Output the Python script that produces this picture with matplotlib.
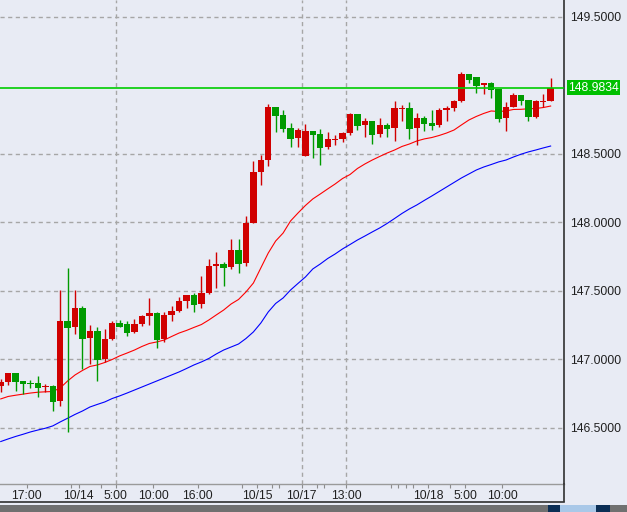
import numpy as np
import matplotlib
matplotlib.use('Agg')
import matplotlib.pyplot as plt
from matplotlib.patches import Rectangle
from matplotlib.lines import Line2D
from matplotlib.transforms import blended_transform_factory

# hourly candles
opens = [146.807, 146.838, 146.904, 146.843, 146.831, 146.831, 146.799, 146.807, 146.699, 147.281,
         147.239, 147.376, 147.159, 147.208, 147.006, 147.152, 147.266, 147.259, 147.201, 147.259,
         147.318, 147.339, 147.150, 147.325, 147.354, 147.427, 147.471, 147.405, 147.485, 147.683,
         147.697, 147.675, 147.799, 147.704, 147.996, 148.369, 148.456, 148.843, 148.785, 148.690,
         148.617, 148.486, 148.668, 148.646, 148.551, 148.602, 148.610, 148.653, 148.792, 148.712,
         148.741, 148.646, 148.712, 148.690, 148.829, 148.836, 148.690, 148.763, 148.726, 148.712,
         148.821, 148.836, 148.887, 149.084, 149.062, 149.004, 149.018, 148.975, 148.763, 148.843,
         148.931, 148.894, 148.770, 148.880, 148.887]
closes = [146.838, 146.904, 146.838, 146.823, 146.823, 146.794, 146.807, 146.692, 147.281, 147.232,
          147.376, 147.152, 147.208, 146.999, 147.150, 147.266, 147.237, 147.193, 147.259, 147.318,
          147.339, 147.142, 147.325, 147.354, 147.427, 147.471, 147.398, 147.485, 147.683, 147.697,
          147.668, 147.799, 147.697, 147.996, 148.369, 148.456, 148.843, 148.778, 148.683, 148.610,
          148.675, 148.668, 148.639, 148.544, 148.610, 148.610, 148.653, 148.792, 148.705, 148.741,
          148.639, 148.712, 148.683, 148.836, 148.836, 148.683, 148.763, 148.719, 148.705, 148.821,
          148.836, 148.887, 149.084, 149.040, 148.996, 149.018, 148.967, 148.756, 148.843, 148.931,
          148.887, 148.770, 148.887, 148.887, 148.9834]
highs = [146.855, 146.904, 146.904, 146.843, 146.850, 146.880, 146.821, 146.814, 147.507, 147.666,
         147.507, 147.391, 147.252, 147.237, 147.223, 147.281, 147.288, 147.281, 147.296, 147.325,
         147.449, 147.347, 147.347, 147.391, 147.456, 147.471, 147.485, 147.610, 147.734, 147.785,
         147.712, 147.880, 147.880, 148.047, 148.450, 148.493, 148.865, 148.843, 148.821, 148.726,
         148.690, 148.719, 148.668, 148.683, 148.661, 148.639, 148.661, 148.799, 148.792, 148.763,
         148.741, 148.763, 148.726, 148.887, 148.858, 148.880, 148.799, 148.778, 148.821, 148.836,
         148.851, 148.894, 149.099, 149.084, 149.062, 149.018, 149.026, 148.975, 148.880, 148.945,
         148.931, 148.894, 148.894, 148.938, 149.055]
lows = [146.765, 146.814, 146.770, 146.746, 146.794, 146.728, 146.765, 146.626, 146.663, 146.473,
        147.188, 146.931, 146.969, 146.845, 146.984, 147.142, 147.237, 147.172, 147.193, 147.245,
        147.252, 147.084, 147.128, 147.281, 147.347, 147.376, 147.347, 147.376, 147.478, 147.522,
        147.536, 147.661, 147.631, 147.683, 147.996, 148.274, 148.413, 148.661, 148.661, 148.551,
        148.551, 148.486, 148.471, 148.420, 148.537, 148.566, 148.588, 148.639, 148.675, 148.624,
        148.573, 148.624, 148.624, 148.595, 148.741, 148.610, 148.566, 148.668, 148.675, 148.697,
        148.741, 148.814, 148.880, 149.018, 148.945, 148.938, 148.909, 148.734, 148.668, 148.843,
        148.858, 148.741, 148.763, 148.843, 148.887]

# moving averages (short = red, long = blue)
ma_short = [146.712, 146.730, 146.739, 146.747, 146.755, 146.761, 146.764, 146.766, 146.792, 146.843,
            146.887, 146.920, 146.949, 146.960, 146.978, 147.000, 147.026, 147.047, 147.069, 147.095,
            147.117, 147.128, 147.142, 147.168, 147.193, 147.212, 147.234, 147.255, 147.288, 147.325,
            147.361, 147.405, 147.438, 147.493, 147.558, 147.668, 147.777, 147.865, 147.923, 148.011,
            148.069, 148.124, 148.172, 148.208, 148.245, 148.281, 148.321, 148.350, 148.394, 148.427,
            148.456, 148.482, 148.507, 148.529, 148.555, 148.573, 148.595, 148.610, 148.620, 148.635,
            148.653, 148.675, 148.712, 148.748, 148.774, 148.796, 148.814, 148.810, 148.814, 148.825,
            148.826, 148.830, 148.832, 148.839, 148.850]
ma_long = [146.401, 146.420, 146.438, 146.454, 146.471, 146.485, 146.498, 146.515, 146.544, 146.571,
           146.599, 146.624, 146.653, 146.672, 146.690, 146.715, 146.734, 146.755, 146.777, 146.799,
           146.821, 146.843, 146.865, 146.887, 146.909, 146.934, 146.960, 146.982, 147.007, 147.040,
           147.069, 147.091, 147.113, 147.153, 147.201, 147.266, 147.347, 147.409, 147.449, 147.507,
           147.555, 147.602, 147.661, 147.697, 147.737, 147.770, 147.807, 147.839, 147.872, 147.901,
           147.931, 147.960, 147.993, 148.029, 148.066, 148.099, 148.128, 148.161, 148.193, 148.226,
           148.259, 148.292, 148.325, 148.354, 148.383, 148.405, 148.423, 148.442, 148.456, 148.478,
           148.498, 148.515, 148.529, 148.544, 148.558]

last_price = 148.9834
price_ticks = [146.5, 147.0, 147.5, 148.0, 148.5, 149.0 + 0.5]
price_ticks = [146.5, 147.0, 147.5, 148.0, 148.5, 149.5]
time_pos = [3.5, 10.5, 15.5, 20.5, 26.5, 34.5, 40.5, 46.5, 57.5, 62.5, 67.5]
time_labels = ['17:00', '10/14', '5:00', '10:00', '16:00', '10/15', '10/17', '13:00', '10/18', '5:00', '10:00']
minor_pos = [9.5, 13.5, 32.5, 36.5, 37.5, 42.5, 43.5, 52.5, 53.5, 54.5, 55.5, 60.5]
vgrid_pos = [15.5, 40.5, 46.5]

BG = '#E8EBF4'
UP = '#D00000'
DOWN = '#009A00'
W, H = 627, 512

plt.rcParams['font.family'] = ['Liberation Sans', 'DejaVu Sans']

fig = plt.figure(figsize=(W / 100, H / 100), dpi=100)
fig.patch.set_facecolor(BG)
ax = fig.add_axes([0, 1 - 484 / H, 564 / W, 484 / H])
ax.set_facecolor(BG)

x = np.arange(len(opens))
o = np.array(opens)
c = np.array(closes)
up = c >= o
colors = np.where(up, UP, DOWN)

# grid
for p in price_ticks:
    ax.axhline(p, color='#A6A6A6', lw=1.0, dashes=(3, 2.5), zorder=1)
for v in vgrid_pos:
    ax.axvline(v, color='#A6A6A6', lw=1.0, dashes=(3, 2.5), zorder=1)

# moving averages
ax.plot(x, ma_short, color='#FF0000', lw=0.8, zorder=2)
ax.plot(x, ma_long, color='#0000FF', lw=0.8, zorder=2)

# candles
ax.vlines(x, lows, highs, colors=colors, lw=1.0, zorder=3)
body_bottom = np.minimum(o, c)
body_h = np.maximum(np.abs(c - o), 0.008)
ax.bar(x, body_h, bottom=body_bottom, width=0.86, color=colors, linewidth=0, zorder=4)

# current price line
ax.axhline(last_price, color='#00CC00', lw=1.2, zorder=5)

ax.set_xlim(-0.1, 75.8)
ax.set_ylim(146.091, 149.624)

ax.yaxis.tick_right()
ax.set_yticks(price_ticks)
ax.set_yticklabels([f'{p:.4f}' for p in price_ticks])
ax.tick_params(axis='y', length=0, pad=4.5, labelsize=8.7, labelcolor='#202020')
ax.set_xticks(time_pos)
ax.set_xticklabels(time_labels)
ax.set_xticks(minor_pos, minor=True)
ax.tick_params(axis='x', which='both', direction='out', length=3, width=0.8,
               color='#8C8C8C', pad=1.5, labelsize=8.7, labelcolor='#202020')

for side in ['left', 'top']:
    ax.spines[side].set_visible(False)
ax.spines['right'].set_color('#303030')
ax.spines['right'].set_linewidth(1.2)
ax.spines['bottom'].set_color('#9A9A9A')
ax.spines['bottom'].set_linewidth(1.0)

# price label box
trans = blended_transform_factory(fig.transFigure, ax.transData)
ax.text(568 / W, last_price, '148.9834', transform=trans, ha='left', va='center',
        fontsize=8.7, color='white',
        bbox=dict(boxstyle='square,pad=0.12', facecolor='#00C000', edgecolor='none'),
        clip_on=False, zorder=10)

# window frame below the plot
fig.add_artist(Line2D([564 / W, 564 / W], [1 - 501 / H, 1 - 484 / H],
                      transform=fig.transFigure, color='#303030', lw=1.2))
fig.add_artist(Line2D([0, 564 / W], [1 - 502 / H, 1 - 502 / H],
                      transform=fig.transFigure, color='#303030', lw=1.2))
fig.add_artist(Rectangle((0, 0), 1, 7 / H, transform=fig.transFigure,
                         facecolor='#707070', edgecolor='none'))
fig.add_artist(Rectangle((548 / W, 0), 12 / W, 7 / H, transform=fig.transFigure,
                         facecolor='#0B2E55', edgecolor='none'))
fig.add_artist(Rectangle((560 / W, 0), 36 / W, 7 / H, transform=fig.transFigure,
                         facecolor='#A9C8E8', edgecolor='none'))
fig.add_artist(Rectangle((596 / W, 0), 14 / W, 7 / H, transform=fig.transFigure,
                         facecolor='#0B2E55', edgecolor='none'))

fig.savefig('out.png', dpi=100, facecolor=BG)
